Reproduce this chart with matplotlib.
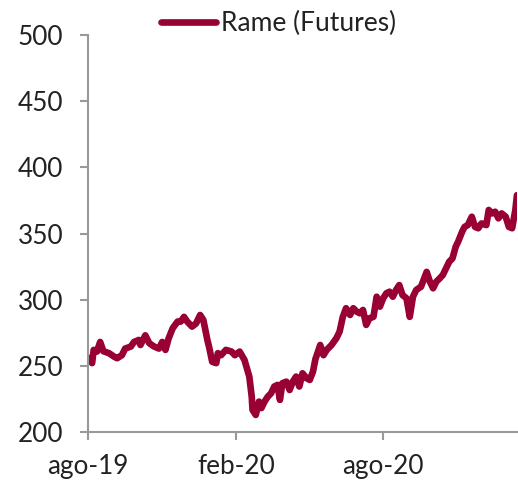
import matplotlib
matplotlib.use("Agg")
import matplotlib.pyplot as plt
import pandas as pd

plt.rcParams['font.family'] = ['Lato', 'DejaVu Sans']

series_name = "Rame (Futures)"
dates = [
    "2019-08-01", "2019-08-06", "2019-08-08", "2019-08-12", "2019-08-16", "2019-08-20",
    "2019-08-27", "2019-09-02", "2019-09-06", "2019-09-12", "2019-09-16", "2019-09-23",
    "2019-09-27", "2019-10-03", "2019-10-05", "2019-10-11", "2019-10-16", "2019-10-22",
    "2019-10-28", "2019-11-01", "2019-11-05", "2019-11-09", "2019-11-14", "2019-11-20",
    "2019-11-24", "2019-11-28", "2019-12-02", "2019-12-08", "2019-12-13", "2019-12-18",
    "2019-12-22", "2019-12-27", "2019-12-29", "2020-01-02", "2020-01-07", "2020-01-09",
    "2020-01-13", "2020-01-19", "2020-01-26", "2020-01-30", "2020-02-05", "2020-02-11",
    "2020-02-17", "2020-02-20", "2020-02-21", "2020-02-25", "2020-02-29", "2020-03-03",
    "2020-03-07", "2020-03-11", "2020-03-15", "2020-03-19", "2020-03-23", "2020-03-26",
    "2020-03-29", "2020-04-03", "2020-04-07", "2020-04-11", "2020-04-15", "2020-04-19",
    "2020-04-23", "2020-04-28", "2020-05-02", "2020-05-06", "2020-05-09", "2020-05-15",
    "2020-05-19", "2020-05-23", "2020-05-29", "2020-06-04", "2020-06-08", "2020-06-12",
    "2020-06-16", "2020-06-21", "2020-06-25", "2020-06-29", "2020-07-03", "2020-07-07",
    "2020-07-11", "2020-07-15", "2020-07-20", "2020-07-24", "2020-07-28", "2020-08-01",
    "2020-08-05", "2020-08-09", "2020-08-13", "2020-08-17", "2020-08-21", "2020-08-25",
    "2020-08-30", "2020-09-03", "2020-09-07", "2020-09-11", "2020-09-17", "2020-09-24",
    "2020-09-28", "2020-10-02", "2020-10-06", "2020-10-10", "2020-10-14", "2020-10-18",
    "2020-10-22", "2020-10-26", "2020-10-30", "2020-11-02", "2020-11-07", "2020-11-10",
    "2020-11-14", "2020-11-19", "2020-11-23", "2020-11-27", "2020-12-01", "2020-12-07",
    "2020-12-10", "2020-12-14", "2020-12-18", "2020-12-22", "2020-12-26", "2020-12-31",
    "2021-01-04", "2021-01-08", "2021-01-12", "2021-01-14",
]
values = [
    256, 252, 262, 260.7, 268, 261,
    259.5, 257, 255.7, 258, 263, 264.5,
    268, 269.5, 265.7, 273, 267, 264.5,
    263, 268, 262, 270.8, 278.4, 283.4,
    283.4, 287, 283.4, 279.6, 282, 288.4,
    284.6, 269.5, 264.5, 253, 252, 259.5,
    258, 262, 260.7, 258, 260.7, 254.4,
    241.8, 226.7, 216.6, 212.8, 222.9, 218,
    223, 226.7, 229.2, 234.3, 235.5, 224.2,
    236.8, 238, 231.7, 238, 241.8, 234.3,
    244.3, 240.6, 239.3, 245.6, 255, 265.7,
    258, 262, 265.7, 270.8, 275.8, 287,
    293.5, 288.4, 293.5, 291, 289.7, 292.2,
    280.9, 285.9, 287, 302.2, 294.7, 301,
    304.8, 306, 302.2, 307.3, 311, 303.5,
    301, 287, 302.2, 307.3, 309.8, 321,
    313.6, 308.6, 313.6, 316, 318.6, 323.7,
    328.7, 331.2, 340, 343.8, 351.4, 355,
    356.4, 362.7, 355, 354, 357.6, 356.4,
    367.8, 365.2, 366.5, 361.5, 365.2, 362.7,
    355, 354, 367.8, 379,
]
xtick_dates = ["2019-08-01", "2020-02-01", "2020-08-01"]
xtick_labels = ["ago-19", "feb-20", "ago-20"]
yticks = [200, 250, 300, 350, 400, 450, 500]

x = pd.to_datetime(dates)

fig = plt.figure(figsize=(5.18, 4.82), dpi=100)
ax = fig.add_axes([0.170, 0.104, 0.828, 0.823])
ax.plot(x, values, color="#990033", linewidth=4.8, solid_capstyle="round",
        solid_joinstyle="round", label=series_name)

ax.set_ylim(200, 500)
ax.set_yticks(yticks)
ax.set_xlim(pd.Timestamp("2019-08-01"), x[-1])
ax.set_xticks(pd.to_datetime(xtick_dates))
ax.set_xticklabels(xtick_labels)

for s in ["top", "right"]:
    ax.spines[s].set_visible(False)
for s in ["left", "bottom"]:
    ax.spines[s].set_color("#999999")
    ax.spines[s].set_linewidth(1.5)

ax.tick_params(axis="y", length=5.8, width=1.5, color="#999999", labelsize=18.8,
               labelcolor="#222222", pad=12)
ax.tick_params(axis="x", length=5.8, width=1.5, color="#999999", labelsize=18.8,
               labelcolor="#222222", pad=10)

fig.legend(loc="upper center", bbox_to_anchor=(0.538, 1.005), frameon=False,
           fontsize=19, handlelength=2.1, handletextpad=0.2, borderaxespad=0.1,
           labelcolor="#222222")

fig.savefig("out.png", dpi=100)
